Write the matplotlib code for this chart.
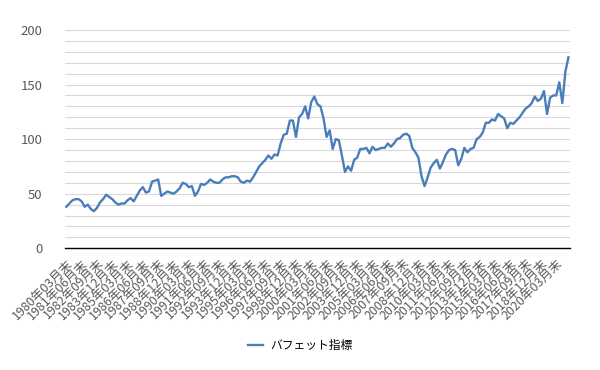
import matplotlib
matplotlib.use("Agg")
import matplotlib.pyplot as plt
from matplotlib.ticker import MultipleLocator

plt.rcParams['font.family'] = ['Noto Sans CJK JP', 'DejaVu Sans']

# quarterly values, 1980年03月末 .. 2021年03月末
buffett = [
    38, 41, 44, 45, 45, 43, 38, 40, 36, 34,
    37, 42, 45, 49, 47, 45, 42, 40, 41, 41,
    44, 46, 43, 48, 53, 56, 51, 52, 61, 62,
    63, 48, 50, 52, 51, 50, 52, 55, 60, 59,
    56, 57, 48, 52, 59, 58, 60, 63, 61, 60,
    60, 63, 65, 65, 66, 66, 65, 61, 60, 62,
    61, 65, 70, 75, 78, 81, 85, 82, 86, 85,
    96, 104, 105, 117, 117, 102, 120, 123, 130, 119,
    134, 139, 132, 130, 119, 102, 108, 91, 100, 99,
    85, 70, 75, 71, 81, 83, 91, 91, 92, 87,
    93, 90, 91, 92, 92, 96, 93, 96, 100, 101,
    104, 105, 103, 92, 88, 83, 66, 57, 65, 74,
    78, 81, 73, 79, 86, 90, 91, 90, 76, 82,
    92, 88, 91, 92, 100, 102, 106, 115, 115, 118,
    117, 123, 121, 119, 110, 115, 114, 117, 120, 124,
    128, 130, 133, 139, 135, 137, 144, 123, 138, 140,
    140, 152, 133, 162, 175,
]
quarters = [f"{1980 + i // 4}年{(i % 4) * 3 + 3:02d}月末" for i in range(len(buffett))]
label_step = 5

fig = plt.figure(figsize=(6, 3.7), dpi=100)
ax = fig.add_axes([0.108, 0.329, 0.842, 0.59])

x = list(range(len(buffett)))
ax.plot(x, buffett, color="#4a7ebb", linewidth=1.7, label="バフェット指標")

ax.set_xlim(-0.5, len(buffett) - 0.5)
ax.set_ylim(0, 200)
ax.yaxis.set_major_locator(MultipleLocator(50))
ax.yaxis.set_minor_locator(MultipleLocator(10))
ax.grid(axis="y", which="both", color="#d9d9d9", linewidth=0.8)
ax.set_axisbelow(True)

for s in ["left", "right", "top"]:
    ax.spines[s].set_visible(False)
ax.spines["bottom"].set_color("black")
ax.spines["bottom"].set_linewidth(1.0)

ax.set_xticks(x[::label_step])
ax.set_xticklabels(quarters[::label_step], rotation=45, ha="right", va="top",
                   rotation_mode="anchor", fontsize=9, color="#595959")
ax.tick_params(axis="x", length=0, pad=6)
ax.tick_params(axis="y", which="both", length=0, pad=16, labelsize=9.5, labelcolor="#595959")

fig.legend(loc="lower center", bbox_to_anchor=(0.5, 0.02), frameon=False,
           fontsize=8.5, handlelength=1.3, handletextpad=0.6)

fig.savefig("out.png", dpi=100)
